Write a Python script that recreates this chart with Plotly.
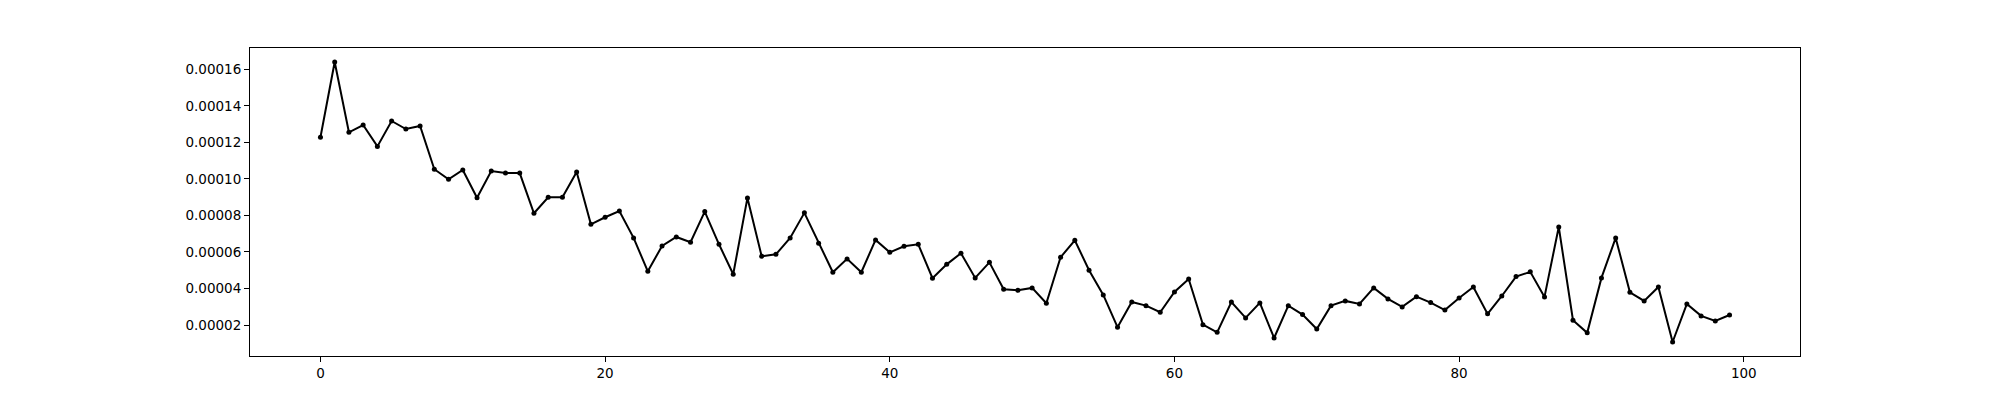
import plotly.graph_objs as go

# values, in units of 1e-5
steps = list(range(100))
vals_e5 = [
    12.28, 16.40, 12.55, 12.95, 11.78, 13.17, 12.73, 12.90, 10.53, 9.98,
    10.49, 8.97, 10.43, 10.32, 10.32, 8.12, 8.99, 8.99, 10.38, 7.51,
    7.90, 8.24, 6.77, 4.94, 6.33, 6.82, 6.53, 8.21, 6.42, 4.78,
    8.96, 5.76, 5.87, 6.77, 8.14, 6.47, 4.89, 5.62, 4.89, 6.66,
    5.98, 6.31, 6.42, 4.56, 5.32, 5.93, 4.58, 5.43, 3.96, 3.90,
    4.03, 3.19, 5.71, 6.64, 5.00, 3.65, 1.88, 3.26, 3.06, 2.70,
    3.81, 4.52, 2.02, 1.60, 3.26, 2.39, 3.21, 1.29, 3.06, 2.57,
    1.78, 3.06, 3.32, 3.15, 4.03, 3.43, 2.99, 3.55, 3.23, 2.82,
    3.48, 4.08, 2.61, 3.59, 4.65, 4.91, 3.54, 7.37, 2.26, 1.57,
    4.58, 6.77, 3.79, 3.32, 4.08, 1.07, 3.15, 2.50, 2.22, 2.55,
]
values = [v * 1e-5 for v in vals_e5]

fig = go.Figure()
fig.add_trace(go.Scatter(x=steps, y=values, mode="lines+markers",
                         line=dict(color="black", width=2),
                         marker=dict(color="black", size=5)))

# matplotlib-like 5% margins
ymin, ymax = min(values), max(values)
pad = (ymax - ymin) * 0.05

axis_style = dict(showline=True, linecolor="black", linewidth=1.1, mirror=True,
                  ticks="outside", ticklen=5, tickcolor="black", tickwidth=1.1,
                  showgrid=False, zeroline=False,
                  tickfont=dict(family="DejaVu Sans", size=13.5, color="black"))

# page body has an 8px margin, so offsets are pulled in by 8
fig.update_layout(
    width=2000, height=400,
    margin=dict(l=242, r=208, t=40, b=52),
    paper_bgcolor="white", plot_bgcolor="white",
    showlegend=False,
    xaxis=dict(range=[-4.95, 103.95], tick0=0, dtick=20, **axis_style),
    yaxis=dict(range=[ymin - pad, ymax + pad], tick0=0, dtick=2e-5,
               tickformat=".5f", **axis_style),
)

fig.write_html("out.html")
